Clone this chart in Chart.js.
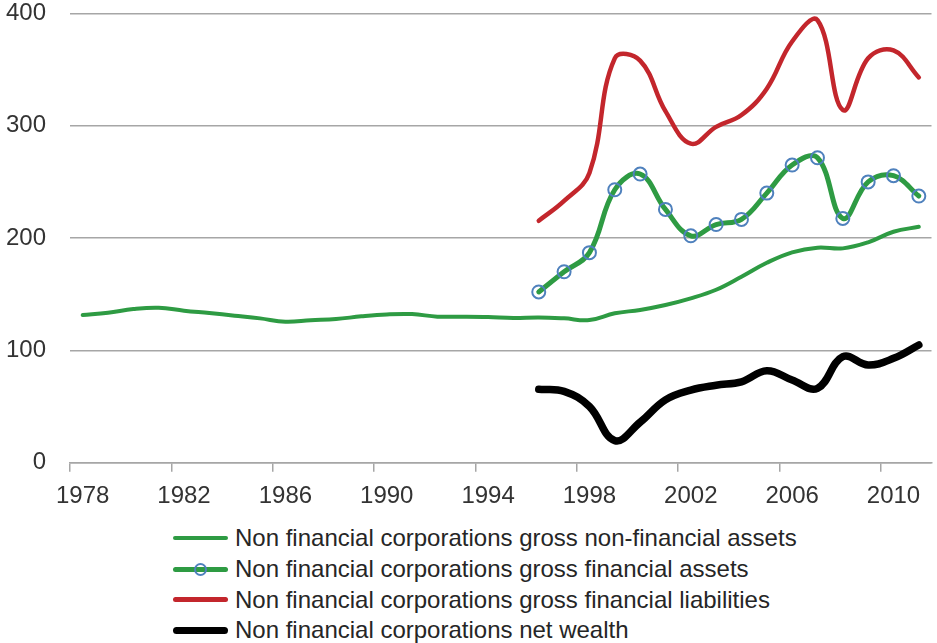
<!DOCTYPE html>
<html>
<head>
<meta charset="utf-8">
<script src="https://cdn.jsdelivr.net/npm/chart.js@4.4.1/dist/chart.umd.min.js"></script>
<style>
  html, body { margin: 0; padding: 0; background: #fff; overflow: hidden; }
  #wrap { position: relative; width: 940px; height: 643px; overflow: hidden; }
  #chartBox { position: absolute; left: 0; top: -25px; width: 940px; height: 535px; }
  #legend { position: absolute; left: 173px; top: 523px; font: 24px "Liberation Sans", Arial, sans-serif; color: #262626; }
  .row { display: flex; align-items: center; height: 30.7px; white-space: nowrap; }
  .swatch { position: relative; width: 55px; margin-right: 7px; border-radius: 4px; }
  .dot { position: absolute; left: 50%; top: 50%; width: 9px; height: 9px; margin: -6.5px 0 0 -6.5px; border: 2px solid #4f81bd; border-radius: 50%; }
</style>
</head>
<body>
<div id="wrap">
  <div id="chartBox"><canvas id="wealthChart"></canvas></div>
  <div id="legend"></div>
</div>
<script>
// --- data ---
const years = ['1978', '1979', '1980', '1981', '1982', '1983', '1984', '1985', '1986', '1987',
  '1988', '1989', '1990', '1991', '1992', '1993', '1994', '1995', '1996', '1997',
  '1998', '1999', '2000', '2001', '2002', '2003', '2004', '2005', '2006', '2007',
  '2008', '2009', '2010', '2011'];

const nonFinAssets = [131.5, 133.5, 136.8, 138, 135.3, 133.2, 130.9, 128.5, 125.5, 126.8,
  127.9, 130.3, 132, 132.3, 130, 130, 129.7, 128.8, 129.3, 128.5,
  127, 133, 136, 140.4, 146.3, 154, 165.6, 178, 187.3, 191.4,
  190.8, 196.2, 205.6, 210];

const finAssets = [null, null, null, null, null, null, null, null, null, null,
  null, null, null, null, null, null, null, null, 152, 170,
  187, 243, 257, 225.5, 202, 212, 216.6, 240, 265, 271.5,
  217.5, 250, 255.5, 237.4];

const finLiabilities = [null, null, null, null, null, null, null, null, null, null,
  null, null, null, null, null, null, null, null, 215.4, 233,
  258, 360, 358, 313, 284, 299, 309.5, 333, 375, 394,
  314, 360, 367, 343];

const netWealth = [null, null, null, null, null, null, null, null, null, null,
  null, null, null, null, null, null, null, null, 65.3, 63.5,
  50, 19.6, 36, 56, 64.7, 69, 72, 81.9, 73.6, 66.2,
  94.4, 87, 92.9, 104.8];

const yTicks = [0, 100, 200, 300, 400];

// --- chart ---
const gridGrey = '#a6a6a6';
const fontFamily = '"Liberation Sans", Arial, sans-serif';

function lineSet(label, data, color, width) {
  return {
    label: label,
    data: data,
    borderColor: color,
    backgroundColor: color,
    borderWidth: width,
    pointRadius: 0,
    tension: 0.4,
    borderCapStyle: 'round',
    borderJoinStyle: 'round',
    fill: false
  };
}

const assetsSet = lineSet('Non financial corporations gross financial assets', finAssets, '#2e9b43', 5);
assetsSet.pointRadius = 6.5;
assetsSet.pointBorderWidth = 2;
assetsSet.pointBorderColor = '#4f81bd';
assetsSet.pointBackgroundColor = 'rgba(255,255,255,0)';

const wealthChart = new Chart(document.getElementById('wealthChart'), {
  type: 'line',
  data: {
    labels: years,
    datasets: [
      lineSet('Non financial corporations gross non-financial assets', nonFinAssets, '#2e9b43', 4),
      assetsSet,
      lineSet('Non financial corporations gross financial liabilities', finLiabilities, '#c3262c', 4.5),
      lineSet('Non financial corporations net wealth', netWealth, '#000000', 7.5)
    ]
  },
  options: {
    responsive: true,
    maintainAspectRatio: false,
    animation: false,
    layout: { padding: 0 },
    plugins: {
      legend: { display: false },
      tooltip: { enabled: false }
    },
    scales: {
      x: {
        offset: true,
        grid: {
          offset: true,
          drawOnChartArea: false,
          drawTicks: true,
          tickLength: 9,
          lineWidth: 1.5,
          color: ctx => (ctx.index % 4 === 0 ? gridGrey : 'rgba(0,0,0,0)')
        },
        border: { color: gridGrey, width: 1.5 },
        ticks: {
          autoSkip: false,
          maxRotation: 0,
          padding: 10,
          color: '#333',
          font: { family: fontFamily, size: 24 },
          callback: (v, i) => (i % 4 === 0 ? years[i] : '')
        },
        afterFit: s => { s.height = 47.3; }
      },
      y: {
        min: yTicks[0],
        max: yTicks[yTicks.length - 1],
        afterBuildTicks: s => { s.ticks = yTicks.map(v => ({ value: v })); },
        grid: { color: gridGrey, lineWidth: 1.5, drawTicks: false },
        border: { display: false },
        ticks: {
          padding: 24,
          color: '#333',
          font: { family: fontFamily, size: 24 }
        },
        afterFit: s => { s.width = 70; }
      }
    }
  }
});

// --- legend, one row per series, built from the chart's datasets ---
const legendBox = document.getElementById('legend');
wealthChart.data.datasets.forEach(ds => {
  const row = document.createElement('div');
  row.className = 'row';
  const sw = document.createElement('div');
  sw.className = 'swatch';
  sw.style.height = ds.borderWidth + 'px';
  sw.style.background = ds.borderColor;
  if (ds.pointRadius > 0) {
    const dot = document.createElement('div');
    dot.className = 'dot';
    sw.appendChild(dot);
  }
  const txt = document.createElement('span');
  txt.textContent = ds.label;
  row.appendChild(sw);
  row.appendChild(txt);
  legendBox.appendChild(row);
});
</script>
</body>
</html>
